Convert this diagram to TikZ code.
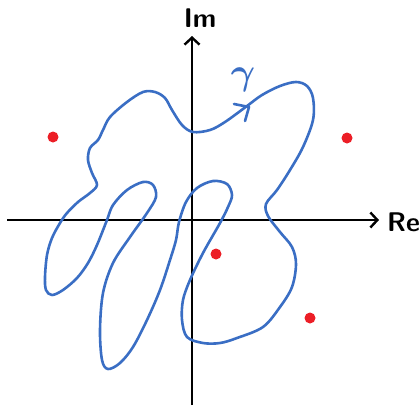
\documentclass[tikz,border=0pt]{standalone}
\usepackage{fontspec}
\usetikzlibrary{arrows.meta}
\definecolor{curveblue}{RGB}{58,110,196}
\definecolor{dotred}{RGB}{236,30,38}
\tikzset{
  axis/.style={line width=2.8pt,black,-{Straight Barb[length=7pt,width=15pt,line width=2.4pt]}},
  curvestyle/.style={line width=2.6pt,curveblue,line cap=round,line join=round},
  pole/.style={circle,fill=dotred,inner sep=0pt,minimum size=11pt},
  axlabel/.style={font=\sffamily\bfseries\fontsize{27}{27}\selectfont,inner sep=0pt},
}
\begin{document}
\begin{tikzpicture}[x=1pt,y=-1pt]
\useasboundingbox (0,0) rectangle (419,405);
% axes
\coordinate (xs) at (7,220);
\coordinate (xe) at (379,220);
\coordinate (ys) at (192,405);
\coordinate (ye) at (192,36);
\draw[axis] (xs) -- (xe);
\draw[axis] (ys) -- (ye);
\node[axlabel,anchor=west] (re) at (387,222) {Re};
\node[axlabel] (im) at (200,18) {Im};
% poles
\node[pole] (p1) at (53,137) {};
\node[pole] (p2) at (347,138) {};
\node[pole] (p3) at (216,254) {};
\node[pole] (p4) at (310,318) {};
% curve gamma
\draw[curvestyle] plot[smooth cycle,tension=0.55] coordinates {
(247,106) (262,95) (280,86) (296,82) (307,86) (313,98) (313,120) (303,147)
(290,170) (277,190) (266,204) (268,216) (280,232) (292,247) (296,264)
(292,287) (280,307) (263,327) (237,338) (220,343) (203,343) (187,337)
(182,320) (183,300) (190,280) (203,253) (220,223) (228,207) (232,195)
(227,184) (213,181) (197,188) (186,202) (179,222) (176,240) (170,260)
(160,290) (147,320) (133,347) (120,363) (108,369) (102,360) (100,330)
(103,293) (113,263) (130,237) (147,213) (156,197) (153,185) (143,182)
(127,190) (113,205) (107,220) (97,245) (88,263) (77,278) (63,290)
(52,295) (46,290) (45,277) (47,255) (52,238) (60,223) (67,213) (78,202)
(90,193) (97,185) (92,173) (88,160) (90,148) (98,140) (103,130) (110,117)
(127,102) (143,92) (155,92) (165,98) (172,110) (182,125) (193,132)
(210,130) (225,122)};
% direction mark
\coordinate (a1) at (234,104);
\coordinate (a0) at (249,107);
\coordinate (a2) at (245,121);
\draw[curvestyle] (a1) -- (a0) -- (a2);
\node[text=curveblue,font=\Huge\boldmath,scale=1.5,inner sep=0pt] (g) at (243,80) {$\gamma$};
\end{tikzpicture}
\end{document}
